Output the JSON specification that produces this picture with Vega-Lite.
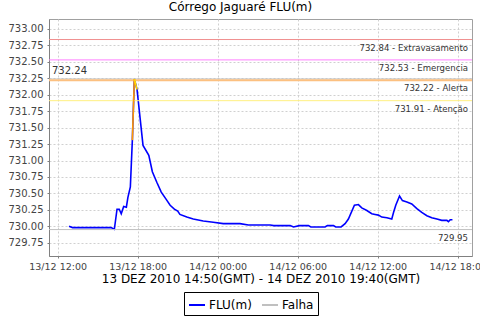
{
  "$schema": "https://vega.github.io/schema/vega-lite/v6.json",
  "width": 423,
  "height": 237,
  "autosize": "none",
  "padding": {"left": 49, "top": 19, "right": 8, "bottom": 64},
  "background": "white",
  "title": {"text": "Córrego Jaguaré FLU(m)", "font": "DejaVu Sans", "fontSize": 12, "fontWeight": "normal", "color": "#000000", "anchor": "middle", "dx": -20, "offset": 5},
  "config": {
    "view": {"stroke": "#a0a0a0", "strokeWidth": 1},
    "axis": {"labelFont": "DejaVu Sans", "titleFont": "DejaVu Sans", "labelColor": "#444444", "domainColor": "#808080", "tickColor": "#808080", "tickSize": 2, "gridColor": "#d0d0d0", "gridDash": [2, 2], "gridWidth": 1, "labelOverlap": false},
    "legend": {"labelFont": "DejaVu Sans"}
  },
  "datasets": {
    "serie": [
      {"t": "2010-12-13T12:51:00Z", "v": 730.00},
      {"t": "2010-12-13T13:07:00Z", "v": 729.98},
      {"t": "2010-12-13T16:00:00Z", "v": 729.98},
      {"t": "2010-12-13T16:15:00Z", "v": 729.955},
      {"t": "2010-12-13T16:27:00Z", "v": 730.26},
      {"t": "2010-12-13T16:37:00Z", "v": 730.26},
      {"t": "2010-12-13T16:46:00Z", "v": 730.19},
      {"t": "2010-12-13T16:57:00Z", "v": 730.30},
      {"t": "2010-12-13T17:09:00Z", "v": 730.29},
      {"t": "2010-12-13T17:16:00Z", "v": 730.44},
      {"t": "2010-12-13T17:27:00Z", "v": 730.60},
      {"t": "2010-12-13T17:36:00Z", "v": 731.31},
      {"t": "2010-12-13T17:45:00Z", "v": 732.24},
      {"t": "2010-12-13T17:57:00Z", "v": 732.08},
      {"t": "2010-12-13T18:24:00Z", "v": 731.23},
      {"t": "2010-12-13T18:50:00Z", "v": 731.08},
      {"t": "2010-12-13T19:06:00Z", "v": 730.83},
      {"t": "2010-12-13T19:26:00Z", "v": 730.67},
      {"t": "2010-12-13T19:46:00Z", "v": 730.52},
      {"t": "2010-12-13T20:06:00Z", "v": 730.42},
      {"t": "2010-12-13T20:26:00Z", "v": 730.32},
      {"t": "2010-12-13T20:45:00Z", "v": 730.26},
      {"t": "2010-12-13T21:00:00Z", "v": 730.23},
      {"t": "2010-12-13T21:10:00Z", "v": 730.18},
      {"t": "2010-12-13T21:41:00Z", "v": 730.14},
      {"t": "2010-12-13T22:10:00Z", "v": 730.11},
      {"t": "2010-12-13T22:55:00Z", "v": 730.08},
      {"t": "2010-12-13T23:40:00Z", "v": 730.06},
      {"t": "2010-12-14T00:25:00Z", "v": 730.04},
      {"t": "2010-12-14T01:40:00Z", "v": 730.04},
      {"t": "2010-12-14T02:18:00Z", "v": 730.02},
      {"t": "2010-12-14T03:56:00Z", "v": 730.02},
      {"t": "2010-12-14T04:12:00Z", "v": 730.01},
      {"t": "2010-12-14T05:26:00Z", "v": 730.01},
      {"t": "2010-12-14T05:41:00Z", "v": 729.99},
      {"t": "2010-12-14T06:07:00Z", "v": 730.01},
      {"t": "2010-12-14T06:48:00Z", "v": 730.01},
      {"t": "2010-12-14T06:59:00Z", "v": 729.99},
      {"t": "2010-12-14T08:03:00Z", "v": 729.99},
      {"t": "2010-12-14T08:13:00Z", "v": 730.01},
      {"t": "2010-12-14T08:41:00Z", "v": 730.01},
      {"t": "2010-12-14T08:51:00Z", "v": 729.99},
      {"t": "2010-12-14T09:15:00Z", "v": 729.99},
      {"t": "2010-12-14T09:33:00Z", "v": 730.04},
      {"t": "2010-12-14T09:48:00Z", "v": 730.11},
      {"t": "2010-12-14T10:15:00Z", "v": 730.32},
      {"t": "2010-12-14T10:33:00Z", "v": 730.33},
      {"t": "2010-12-14T10:48:00Z", "v": 730.28},
      {"t": "2010-12-14T11:11:00Z", "v": 730.24},
      {"t": "2010-12-14T11:33:00Z", "v": 730.19},
      {"t": "2010-12-14T11:48:00Z", "v": 730.18},
      {"t": "2010-12-14T12:03:00Z", "v": 730.17},
      {"t": "2010-12-14T12:18:00Z", "v": 730.14},
      {"t": "2010-12-14T12:41:00Z", "v": 730.13},
      {"t": "2010-12-14T13:03:00Z", "v": 730.11},
      {"t": "2010-12-14T13:11:00Z", "v": 730.21},
      {"t": "2010-12-14T13:21:00Z", "v": 730.32},
      {"t": "2010-12-14T13:38:00Z", "v": 730.46},
      {"t": "2010-12-14T13:51:00Z", "v": 730.39},
      {"t": "2010-12-14T14:11:00Z", "v": 730.37},
      {"t": "2010-12-14T14:33:00Z", "v": 730.34},
      {"t": "2010-12-14T14:56:00Z", "v": 730.27},
      {"t": "2010-12-14T15:18:00Z", "v": 730.21},
      {"t": "2010-12-14T15:41:00Z", "v": 730.16},
      {"t": "2010-12-14T16:03:00Z", "v": 730.13},
      {"t": "2010-12-14T16:26:00Z", "v": 730.11},
      {"t": "2010-12-14T16:48:00Z", "v": 730.09},
      {"t": "2010-12-14T17:11:00Z", "v": 730.09},
      {"t": "2010-12-14T17:18:00Z", "v": 730.07},
      {"t": "2010-12-14T17:26:00Z", "v": 730.10},
      {"t": "2010-12-14T17:36:00Z", "v": 730.10}
    ],
    "alerta": [
      {"seg": "laranja", "t": "2010-12-13T17:36:00Z", "v": 731.31},
      {"seg": "laranja", "t": "2010-12-13T17:45:00Z", "v": 732.24},
      {"seg": "amarelo", "t": "2010-12-13T17:45:00Z", "v": 732.24},
      {"seg": "amarelo", "t": "2010-12-13T17:57:00Z", "v": 732.08}
    ],
    "niveis": [
      {"nivel": "extravasamento", "v": 732.84, "rotulo": "732.84 - Extravasamento", "t_dir": "2010-12-14T19:04:00Z", "t_esq": "2010-12-13T11:21:00Z"},
      {"nivel": "emergencia", "v": 732.53, "rotulo": "732.53 - Emergencia", "t_dir": "2010-12-14T19:04:00Z", "t_esq": "2010-12-13T11:21:00Z"},
      {"nivel": "alerta", "v": 732.22, "rotulo": "732.22 - Alerta", "t_dir": "2010-12-14T19:04:00Z", "t_esq": "2010-12-13T11:21:00Z"},
      {"nivel": "atencao", "v": 731.91, "rotulo": "731.91 - Atenção", "t_dir": "2010-12-14T19:04:00Z", "t_esq": "2010-12-13T11:21:00Z"},
      {"nivel": "minimo", "v": 729.95, "rotulo": "729.95", "t_dir": "2010-12-14T19:04:00Z", "t_esq": "2010-12-13T11:21:00Z"},
      {"nivel": "maximo", "v": 732.24, "rotulo": "732.24", "t_dir": "2010-12-14T19:04:00Z", "t_esq": "2010-12-13T11:21:00Z"}
    ]
  },
  "layer": [
    {
      "data": {"name": "serie"},
      "mark": {"type": "line", "strokeWidth": 1.6},
      "encoding": {
        "x": {
          "field": "t", "type": "temporal",
          "scale": {"type": "utc", "domain": [{"year": 2010, "month": 12, "date": 13, "hours": 11, "minutes": 21, "utc": true}, {"year": 2010, "month": 12, "date": 14, "hours": 19, "minutes": 4, "utc": true}]},
          "axis": {
            "values": [
              {"year": 2010, "month": 12, "date": 13, "hours": 12, "utc": true},
              {"year": 2010, "month": 12, "date": 13, "hours": 18, "utc": true},
              {"year": 2010, "month": 12, "date": 14, "hours": 0, "utc": true},
              {"year": 2010, "month": 12, "date": 14, "hours": 6, "utc": true},
              {"year": 2010, "month": 12, "date": 14, "hours": 12, "utc": true},
              {"year": 2010, "month": 12, "date": 14, "hours": 18, "utc": true}
            ],
            "tickCount": 12,
            "format": "%d/%m %H:%M", "labelFontSize": 9.5, "labelPadding": 3, "title": "13 DEZ 2010 14:50(GMT) - 14 DEZ 2010 19:40(GMT)", "titleFontSize": 12, "titleFontWeight": "normal", "titleColor": "#000000", "titlePadding": 3, "labelFlush": false, "labelOverlap": false}
        },
        "y": {
          "field": "v", "type": "quantitative",
          "scale": {"domain": [729.548, 733.152], "nice": false, "zero": false},
          "axis": {"values": [729.75, 730, 730.25, 730.5, 730.75, 731, 731.25, 731.5, 731.75, 732, 732.25, 732.5, 732.75, 733], "tickCount": 20, "format": ".2f", "labelFontSize": 10, "labelPadding": 4, "title": null, "labelOverlap": false}
        },
        "color": {
          "datum": "FLU(m)",
          "scale": {"domain": ["FLU(m)", "Falha"], "range": ["#0000ff", "#c0c0c0"]},
          "legend": {
            "title": null, "orient": "none", "legendX": 135, "legendY": 273, "direction": "horizontal",
            "strokeColor": "#000000", "padding": 4, "labelFontSize": 12, "labelColor": "#000000", "labelOffset": 3, "columnPadding": 6, "symbolType": "stroke", "symbolSize": 256, "symbolStrokeWidth": 2
          }
        }
      }
    },
    {"data": {"name": "niveis"}, "transform": [{"filter": "datum.nivel === 'extravasamento'"}], "mark": {"type": "rule", "color": "#f09090", "strokeWidth": 1}, "encoding": {"y": {"field": "v", "type": "quantitative"}}},
    {"data": {"name": "niveis"}, "transform": [{"filter": "datum.nivel === 'emergencia'"}], "mark": {"type": "rule", "color": "#ff80ff", "strokeWidth": 1}, "encoding": {"y": {"field": "v", "type": "quantitative"}}},
    {"data": {"name": "niveis"}, "transform": [{"filter": "datum.nivel === 'maximo'"}], "mark": {"type": "rule", "color": "#c0c0c0", "strokeWidth": 1}, "encoding": {"y": {"field": "v", "type": "quantitative"}}},
    {"data": {"name": "niveis"}, "transform": [{"filter": "datum.nivel === 'alerta'"}], "mark": {"type": "rule", "color": "#fcc080", "strokeWidth": 2}, "encoding": {"y": {"field": "v", "type": "quantitative"}}},
    {"data": {"name": "niveis"}, "transform": [{"filter": "datum.nivel === 'atencao'"}], "mark": {"type": "rule", "color": "#fff080", "strokeWidth": 1}, "encoding": {"y": {"field": "v", "type": "quantitative"}}},
    {"data": {"name": "niveis"}, "transform": [{"filter": "datum.nivel === 'minimo'"}], "mark": {"type": "rule", "color": "#c0c0c0", "strokeWidth": 1}, "encoding": {"y": {"field": "v", "type": "quantitative"}}},
    {
      "data": {"name": "niveis"},
      "transform": [{"filter": "datum.nivel !== 'maximo'"}],
      "mark": {"type": "text", "align": "right", "baseline": "top", "dx": -4, "dy": 3, "font": "DejaVu Sans Condensed", "fontSize": 9.5, "color": "#333333"},
      "encoding": {"x": {"field": "t_dir", "type": "temporal"}, "y": {"field": "v", "type": "quantitative"}, "text": {"field": "rotulo"}}
    },
    {
      "data": {"name": "niveis"},
      "transform": [{"filter": "datum.nivel === 'maximo'"}],
      "mark": {"type": "text", "align": "left", "baseline": "bottom", "dx": 3, "dy": -3, "font": "DejaVu Sans", "fontSize": 10, "color": "#333333"},
      "encoding": {"x": {"field": "t_esq", "type": "temporal"}, "y": {"field": "v", "type": "quantitative"}, "text": {"field": "rotulo"}}
    },
    {"data": {"name": "alerta"}, "transform": [{"filter": "datum.seg === 'laranja'"}], "mark": {"type": "line", "color": "#ff9900", "strokeWidth": 1.6}, "encoding": {"x": {"field": "t", "type": "temporal"}, "y": {"field": "v", "type": "quantitative"}}},
    {"data": {"name": "alerta"}, "transform": [{"filter": "datum.seg === 'amarelo'"}], "mark": {"type": "line", "color": "#ffd700", "strokeWidth": 1.6}, "encoding": {"x": {"field": "t", "type": "temporal"}, "y": {"field": "v", "type": "quantitative"}}}
  ]
}
